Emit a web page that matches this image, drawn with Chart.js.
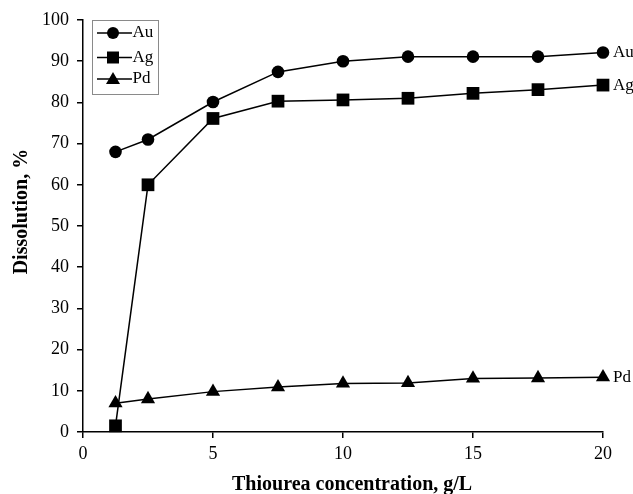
<!DOCTYPE html>
<html>
<head>
<meta charset="utf-8">
<script src="https://cdn.jsdelivr.net/npm/chart.js@4/dist/chart.umd.min.js"></script>
<style>
html,body{margin:0;padding:0;background:#fff;}
#wrap{width:633px;height:494px;}
</style>
</head>
<body>
<div id="wrap"><canvas id="c" width="633" height="494"></canvas></div>
<script>
const concentrations = [1.25, 2.5, 5, 7.5, 10, 12.5, 15, 17.5, 20];
const auValues = [68, 71, 80.1, 87.4, 90, 91.1, 91.1, 91.1, 92.1];
const agValues = [1.5, 60, 76.1, 80.3, 80.6, 81, 82.2, 83.1, 84.2];
const pdValues = [7.0, 8.0, 9.8, 10.9, 11.8, 11.9, 13.0, 13.1, 13.3];
const seriesNames = ['Au', 'Ag', 'Pd'];
const xTicks = [0, 5, 10, 15, 20];
const yTicks = [0, 10, 20, 30, 40, 50, 60, 70, 80, 90, 100];
const yTitle = 'Dissolution, %';
const xTitle = 'Thiourea concentration, g/L';

const FONT = '"Liberation Serif", "Times New Roman", serif';
const toPts = arr => arr.map((v, i) => ({x: concentrations[i], y: v}));

function drawMarker(ctx, style, x, y) {
  ctx.save();
  ctx.fillStyle = '#000';
  ctx.beginPath();
  if (style === 'circle') {
    ctx.arc(x, y, 6, 0, Math.PI * 2);
  } else if (style === 'rect') {
    ctx.rect(x - 6, y - 6, 12, 12);
  } else {
    ctx.moveTo(x, y - 7);
    ctx.lineTo(x + 7, y + 5);
    ctx.lineTo(x - 7, y + 5);
    ctx.closePath();
  }
  ctx.fill();
  ctx.restore();
}

const overlay = {
  id: 'overlay',
  afterDatasetsDraw(chart) {
    const ctx = chart.ctx;
    const xs = chart.scales.x, ys = chart.scales.y;
    ctx.save();
    // axis titles
    ctx.font = 'bold 20px ' + FONT;
    ctx.fillStyle = '#000';
    ctx.textAlign = 'center';
    ctx.textBaseline = 'middle';
    ctx.fillText(xTitle, xs.getPixelForValue(10.35), 485);
    ctx.save();
    ctx.translate(22, ys.getPixelForValue(53.5));
    ctx.rotate(-Math.PI / 2);
    ctx.fillText(yTitle, 0, 0);
    ctx.restore();
    // end labels
    ctx.font = '17px ' + FONT;
    ctx.textBaseline = 'middle';
    ctx.textAlign = 'left';
    chart.data.datasets.forEach(ds => {
      const last = ds.data[ds.data.length - 1];
      ctx.fillText(ds.label, xs.getPixelForValue(last.x) + 10, ys.getPixelForValue(last.y));
    });
    // legend box
    const bx = xs.left + 9, by = ys.top, bw = 66, bh = 74;
    ctx.strokeStyle = '#8a8a8a';
    ctx.lineWidth = 1;
    ctx.fillStyle = '#fff';
    ctx.fillRect(bx, by, bw, bh);
    ctx.strokeRect(bx + 0.5, by + 0.5, bw, bh);
    const rowY = [by + 13, by + 37.5, by + 59];
    chart.data.datasets.forEach((ds, i) => {
      const y = rowY[i];
      ctx.strokeStyle = '#000';
      ctx.lineWidth = 1.5;
      ctx.beginPath();
      ctx.moveTo(bx + 5, y);
      ctx.lineTo(bx + 40, y);
      ctx.stroke();
      drawMarker(ctx, ds.pointStyle, bx + 21, y);
      ctx.fillStyle = '#000';
      ctx.fillText(ds.label, bx + 40.5, y);
    });
    ctx.restore();
  }
};

const common = {
  borderColor: '#000',
  backgroundColor: '#000',
  pointBackgroundColor: '#000',
  pointBorderColor: '#000',
  borderWidth: 1.5,
  pointBorderWidth: 0,
  tension: 0,
  clip: false
};

new Chart(document.getElementById('c'), {
  type: 'line',
  data: {
    datasets: [
      Object.assign({label: seriesNames[0], data: toPts(auValues), pointStyle: 'circle', pointRadius: 6.3}, common),
      Object.assign({label: seriesNames[1], data: toPts(agValues), pointStyle: 'rect', pointRadius: 9}, common),
      Object.assign({label: seriesNames[2], data: toPts(pdValues), pointStyle: 'triangle', pointRadius: 8.2}, common)
    ]
  },
  plugins: [overlay],
  options: {
    responsive: false,
    animation: false,
    devicePixelRatio: 1,
    layout: {padding: {top: 20, right: 30, left: 0, bottom: 0}},
    plugins: {legend: {display: false}, tooltip: {enabled: false}},
    scales: {
      x: {
        type: 'linear', min: 0, max: 20,
        afterBuildTicks: s => { s.ticks = xTicks.map(v => ({value: v})); },
        afterFit: s => { s.height = 62; },
        grid: {display: true, drawOnChartArea: false, drawTicks: true, tickLength: 6, color: '#000', lineWidth: 1.5},
        border: {display: true, color: '#000', width: 1.5},
        ticks: {color: '#000', font: {family: FONT, size: 18}, padding: 5, maxRotation: 0},
        title: {display: false}
      },
      y: {
        type: 'linear', min: 0, max: 100,
        afterBuildTicks: s => { s.ticks = yTicks.map(v => ({value: v})); },
        afterFit: s => { s.width = 83; },
        grid: {display: true, drawOnChartArea: false, drawTicks: true, tickLength: 6, color: '#000', lineWidth: 1.5},
        border: {display: true, color: '#000', width: 1.5},
        ticks: {color: '#000', font: {family: FONT, size: 18}, padding: 8},
        title: {display: false}
      }
    }
  }
});
</script>
</body>
</html>
